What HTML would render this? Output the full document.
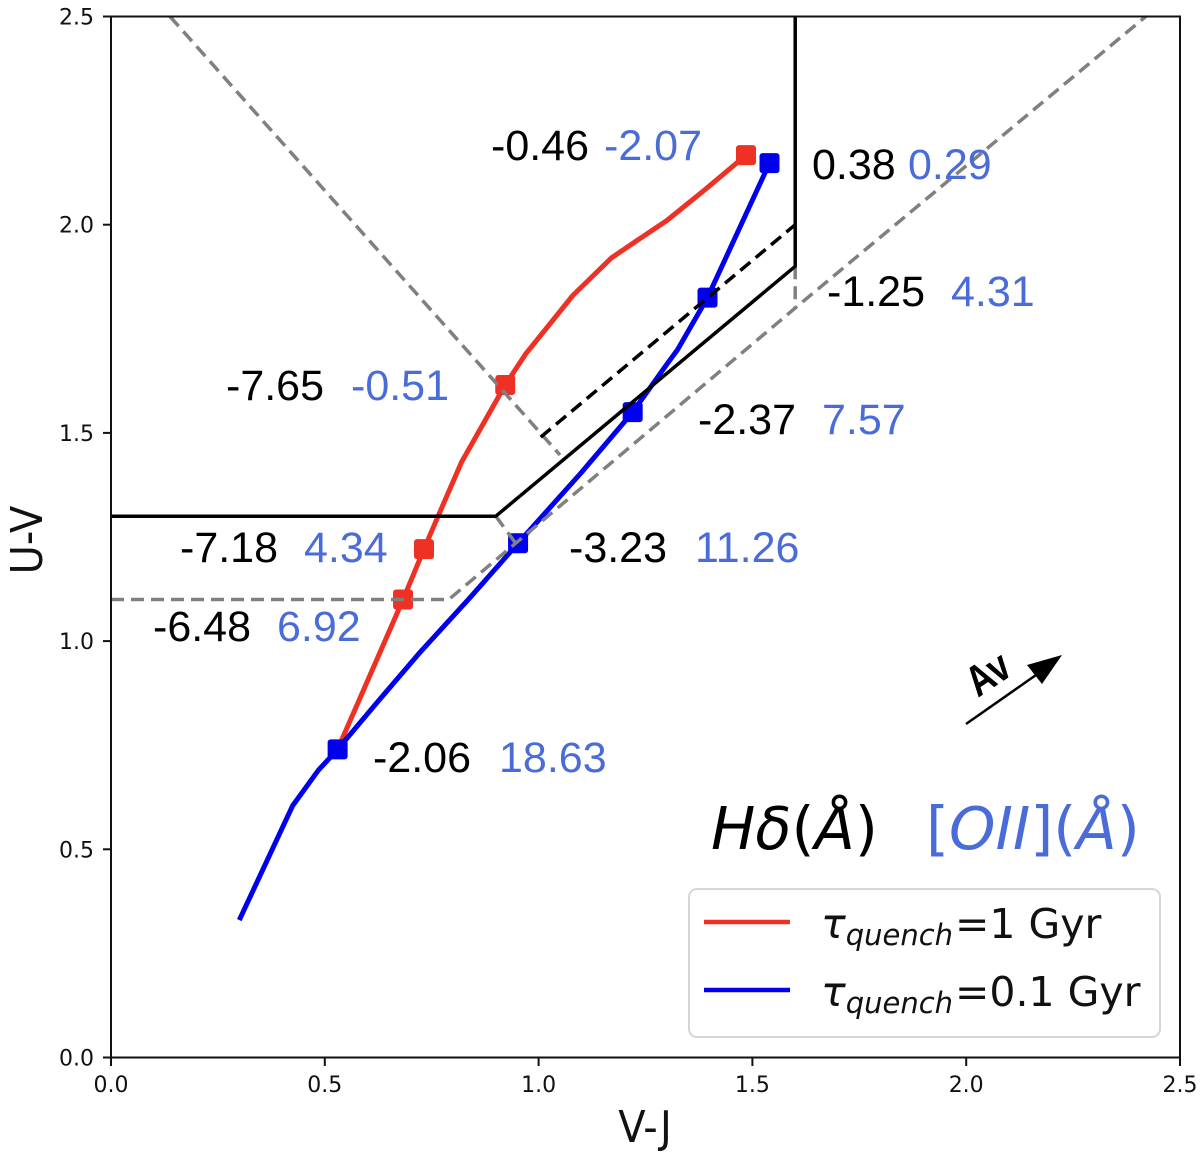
<!DOCTYPE html>
<html lang="en">
<head>
<meta charset="utf-8">
<title>UVJ colour-colour diagram</title>
<style>
html,body{margin:0;padding:0;background:#fff;width:1200px;height:1160px;overflow:hidden}
svg{display:block}
text{white-space:pre}
.t{font-family:"DejaVu Sans",sans-serif;fill:#111}
.a{font-family:"Liberation Sans",sans-serif;font-size:43px}
.k{fill:#000}
.b{fill:#4a6cd8}
.m{font-family:"DejaVu Sans",sans-serif;font-size:59px}
.i{font-style:oblique}
.leg{font-family:"DejaVu Sans",sans-serif;font-size:41px;fill:#111}
</style>
</head>
<body>
<svg id="chart" xmlns="http://www.w3.org/2000/svg" width="1200" height="1160" viewBox="0 0 1200 1160">
  <rect width="1200" height="1160" fill="#fff"/>
  <g id="series"></g>
  <g id="bounds"></g>
  <rect x="111" y="16.5" width="1069" height="1041" fill="none" stroke="#111" stroke-width="2"/>
  <g id="ticks"></g>

  <text class="t" transform="translate(645 1142) scale(1 1.1)" font-size="40" text-anchor="middle">V-J</text>
  <text class="t" transform="translate(42 540) rotate(-90) scale(1 1.1)" font-size="40" text-anchor="middle">U-V</text>

  <g>
    <text class="a k" x="491" y="160">-0.46</text>
    <text class="a b" x="604" y="160">-2.07</text>
    <text class="a k" x="812" y="179">0.38</text>
    <text class="a b" x="908" y="179">0.29</text>
    <text class="a k" x="827" y="306">-1.25</text>
    <text class="a b" x="951" y="306">4.31</text>
    <text class="a k" x="226" y="400">-7.65</text>
    <text class="a b" x="351" y="400">-0.51</text>
    <text class="a k" x="698" y="434">-2.37</text>
    <text class="a b" x="822" y="434">7.57</text>
    <text class="a k" x="180" y="562">-7.18</text>
    <text class="a b" x="304" y="562">4.34</text>
    <text class="a k" x="569" y="562">-3.23</text>
    <text class="a b" x="695" y="562">11.26</text>
    <text class="a k" x="153" y="641">-6.48</text>
    <text class="a b" x="277" y="641">6.92</text>
    <text class="a k" x="373" y="772">-2.06</text>
    <text class="a b" x="499" y="772">18.63</text>
  </g>

  <g>
    <line x1="966" y1="724" x2="1036" y2="675" stroke="#000" stroke-width="2.5"/>
    <polygon points="1062,655 1027,665 1042,684" fill="#000"/>
    <text transform="translate(978 698) rotate(-34) scale(0.98 1.2)" font-family="'Liberation Sans',sans-serif" font-weight="bold" font-size="36" fill="#000">Av</text>
  </g>

  <text class="m" x="711" y="849" fill="#000"><tspan class="i">Hδ</tspan>(<tspan class="i">Å</tspan>)</text>
  <text class="m" x="926" y="849" fill="#4a6cd8">[<tspan class="i">OII</tspan>](<tspan class="i">Å</tspan>)</text>

  <g>
    <rect x="689" y="889" width="471" height="148" rx="8" ry="8" fill="#fff" stroke="#d6d6d6" stroke-width="2"/>
    <line x1="704" y1="922" x2="790" y2="922" stroke="#ee3124" stroke-width="4.5"/>
    <line x1="704" y1="990" x2="790" y2="990" stroke="#0000ee" stroke-width="4.5"/>
    <text class="leg" x="821" y="938"><tspan font-style="oblique">τ</tspan><tspan font-style="oblique" font-size="29" dy="7">quench</tspan><tspan dy="-7" dx="2">=1 Gyr</tspan></text>
    <text class="leg" x="821" y="1006"><tspan font-style="oblique">τ</tspan><tspan font-style="oblique" font-size="29" dy="7">quench</tspan><tspan dy="-7" dx="2">=0.1 Gyr</tspan></text>
  </g>
</svg>
<script>
const xTicks = [0, 0.5, 1, 1.5, 2, 2.5];
const yTicks = [0, 0.5, 1, 1.5, 2, 2.5];
const tickLabels = ["0.0", "0.5", "1.0", "1.5", "2.0", "2.5"];

const redVJ = [0.53, 0.683, 0.732, 0.765, 0.82, 0.922, 0.97, 1.08, 1.17, 1.22, 1.30, 1.39, 1.485];
const redUV = [0.74, 1.10, 1.221, 1.30, 1.43, 1.615, 1.69, 1.83, 1.92, 1.955, 2.01, 2.085, 2.167];
const blueVJ = [0.30, 0.425, 0.485, 0.53, 0.62, 0.72, 0.84, 0.952, 1.10, 1.22, 1.30, 1.325, 1.395, 1.54];
const blueUV = [0.33, 0.605, 0.69, 0.74, 0.85, 0.97, 1.105, 1.235, 1.405, 1.55, 1.665, 1.70, 1.825, 2.148];

const redMarkVJ = [0.683, 0.732, 0.922, 1.485];
const redMarkUV = [1.10, 1.221, 1.615, 2.167];
const blueMarkVJ = [0.53, 0.952, 1.22, 1.395, 1.54];
const blueMarkUV = [0.74, 1.235, 1.55, 1.825, 2.148];

const solidVJ = [0, 0.90, 1.60, 1.60];
const solidUV = [1.30, 1.30, 1.90, 2.50];
const blackDashVJ = [1.005, 1.60];
const blackDashUV = [1.49, 2.00];
const grayLowerVJ = [0, 0.79, 1.60, 2.42];
const grayLowerUV = [1.10, 1.10, 1.80, 2.50];
const grayUpperVJ = [0.138, 1.05];
const grayUpperUV = [2.50, 1.447];
const grayLinkVJ = [0.90, 0.95];
const grayLinkUV = [1.30, 1.23];
const grayDropVJ = [1.60, 1.60];
const grayDropUV = [1.90, 1.80];

const NS = "http://www.w3.org/2000/svg";
const xScale = function (v) { return 111 + v * (1069 / 2.5); };
const yScale = function (v) { return 1057.5 - v * (1041 / 2.5); };

function pts(xs, ys) {
  return xs.map(function (x, i) { return xScale(x).toFixed(1) + "," + yScale(ys[i]).toFixed(1); }).join(" ");
}
function poly(parent, xs, ys, color, width, dash, name) {
  const el = document.createElementNS(NS, "polyline");
  el.setAttribute("points", pts(xs, ys));
  el.setAttribute("fill", "none");
  el.setAttribute("stroke", color);
  el.setAttribute("stroke-width", width);
  el.setAttribute("stroke-linejoin", "round");
  if (dash) el.setAttribute("stroke-dasharray", dash);
  
  
  parent.appendChild(el);
}
function marks(parent, xs, ys, color, name) {
  xs.forEach(function (x, i) {
    const r = document.createElementNS(NS, "rect");
    r.setAttribute("x", xScale(x) - 10);
    r.setAttribute("y", yScale(ys[i]) - 10);
    r.setAttribute("width", 20);
    r.setAttribute("height", 20);
    r.setAttribute("rx", 3);
    r.setAttribute("fill", color);
    
    
    parent.appendChild(r);
  });
}

const seriesLayer = document.getElementById("series");
poly(seriesLayer, redVJ, redUV, "#ee3124", 5, null, "red-track-1gyr");
marks(seriesLayer, redMarkVJ, redMarkUV, "#ee3124", "red-marker");
poly(seriesLayer, blueVJ, blueUV, "#0000ee", 5, null, "blue-track-0.1gyr");
marks(seriesLayer, blueMarkVJ, blueMarkUV, "#0000ee", "blue-marker");

const boundsLayer = document.getElementById("bounds");
poly(boundsLayer, grayUpperVJ, grayUpperUV, "#808080", 3.5, "13 7", "gray-upper-boundary");
poly(boundsLayer, grayLowerVJ, grayLowerUV, "#808080", 3.5, "13 7", "gray-lower-boundary");
poly(boundsLayer, grayLinkVJ, grayLinkUV, "#808080", 3.5, "13 7", "gray-link-segment");
poly(boundsLayer, grayDropVJ, grayDropUV, "#808080", 3.5, "13 7", "gray-drop-segment");
poly(boundsLayer, solidVJ, solidUV, "#000", 3.5, null, "black-solid-boundary");
poly(boundsLayer, blackDashVJ, blackDashUV, "#000", 3.5, "13 7", "black-dashed-boundary");

const tickLayer = document.getElementById("ticks");
xTicks.forEach(function (v, i) {
  const l = document.createElementNS(NS, "line");
  l.setAttribute("x1", xScale(v));
  l.setAttribute("x2", xScale(v));
  l.setAttribute("y1", 1057.5);
  l.setAttribute("y2", 1066);
  l.setAttribute("stroke", "#111");
  l.setAttribute("stroke-width", 2);
  
  
  tickLayer.appendChild(l);
  const t = document.createElementNS(NS, "text");
  t.setAttribute("class", "t");
  t.setAttribute("x", xScale(v));
  t.setAttribute("y", 1092);
  t.setAttribute("font-size", 22);
  t.setAttribute("text-anchor", "middle");
  
  
  t.textContent = tickLabels[i];
  tickLayer.appendChild(t);
});
yTicks.forEach(function (v, i) {
  const l = document.createElementNS(NS, "line");
  l.setAttribute("x1", 103);
  l.setAttribute("x2", 111);
  l.setAttribute("y1", yScale(v));
  l.setAttribute("y2", yScale(v));
  l.setAttribute("stroke", "#111");
  l.setAttribute("stroke-width", 2);
  
  
  tickLayer.appendChild(l);
  const t = document.createElementNS(NS, "text");
  t.setAttribute("class", "t");
  t.setAttribute("x", 94);
  t.setAttribute("y", yScale(v) + 8);
  t.setAttribute("font-size", 22);
  t.setAttribute("text-anchor", "end");
  
  
  t.textContent = tickLabels[i];
  tickLayer.appendChild(t);
});
</script>
</body>
</html>
